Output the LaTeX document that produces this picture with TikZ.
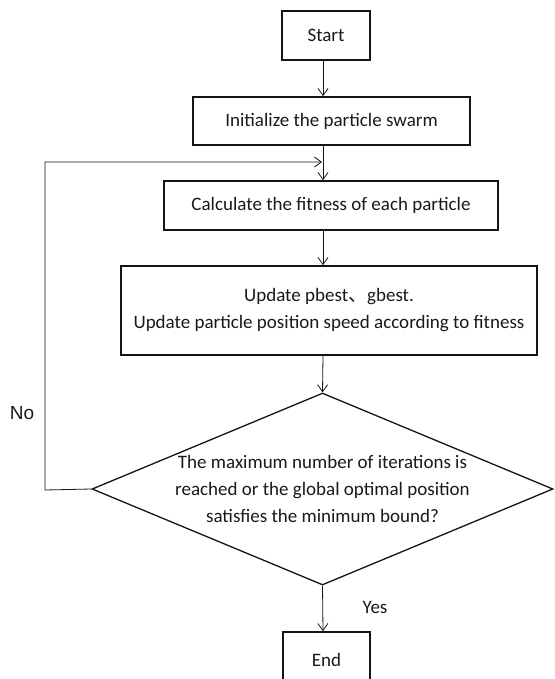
\documentclass[tikz,border=0pt]{standalone}
\usepackage{fontspec}
\setmainfont{Carlito}
\newfontfamily\arialfont{Liberation Sans}
\newfontfamily\cjk{Noto Sans CJK SC}
\usetikzlibrary{arrows.meta,shapes.geometric}
\definecolor{LineClr}{RGB}{20,20,20}
\definecolor{TextClr}{RGB}{25,25,25}

\tikzset{
  txt/.style={font=\fontsize{19}{27}\selectfont,text=TextClr},
  procbox/.style={txt,draw=LineClr,line width=1.7pt,rectangle,inner sep=0pt,align=center},
  decbox/.style={txt,draw=LineClr,line width=1.3pt,diamond,shape aspect=2.4,inner sep=0pt,
    minimum width=461pt,minimum height=192pt,align=center},
  arr/.style={draw=LineClr,line width=0.8pt,-{Straight Barb[length=7pt,width=10pt]}}
}

\begin{document}
\begin{tikzpicture}[x=1pt,y=-1pt]
\useasboundingbox (0,0) rectangle (554,679);

\coordinate (axis) at (323,0);

\node[procbox,minimum width=88pt,minimum height=49pt] (start) at (326,35.5) {Start};
\node[procbox,minimum width=277pt,minimum height=48pt] (init) at (331.5,121) {Initialize the particle swarm};
\node[procbox,minimum width=334pt,minimum height=49pt] (calc) at (331,205.5) {Calculate the fitness of each particle};
\node[procbox,minimum width=416pt,minimum height=89pt] (update) at (329,310.5)
  {Update pbest{\cjk 、}gbest.\\Update particle position speed according to fitness};
\node[decbox] (check) at (322.5,489)
  {The maximum number of iterations is\\reached or the global optimal position\\satisfies the minimum bound?};
\node[procbox,minimum width=87pt,minimum height=56pt] (finish) at (326.5,660) {End};

% main flow
\draw[arr] (start.south -| axis) -- (init.north -| axis);
\draw[arr] (init.south -| axis) -- (calc.north -| axis);
\draw[arr] (calc.south -| axis) -- (update.north -| axis);
\draw[arr] (update.south -| axis) -- (check.north);
\draw[arr] (check.south) -- (finish.north -| axis);

% loop back
\coordinate (back) at (45,490);
\coordinate (merge) at (322,162);
\draw[arr] (check.west) -- (back) |- (merge);

\node[txt,font=\arialfont\fontsize{19}{22}\selectfont] (no) at (22,413) {No};
\node[txt] (yes) at (375,607) {Yes};

\end{tikzpicture}
\end{document}
